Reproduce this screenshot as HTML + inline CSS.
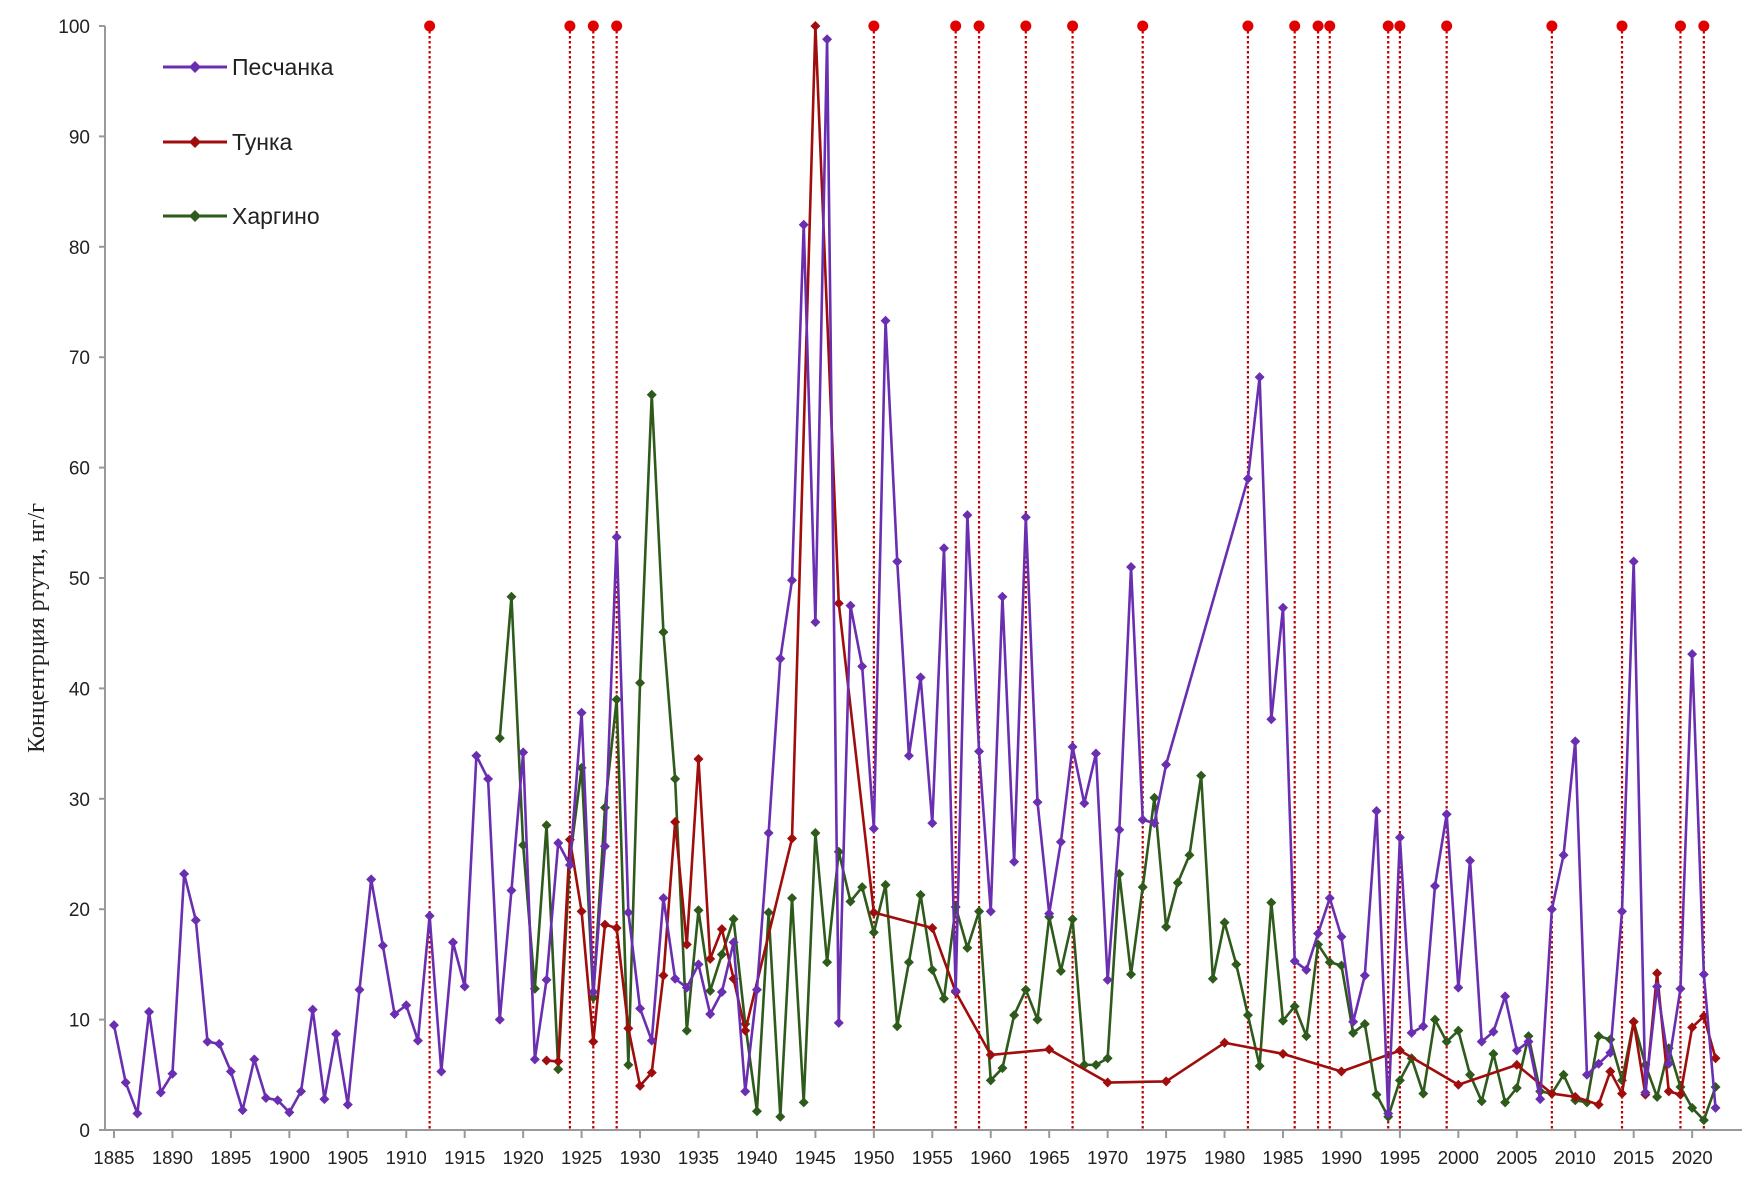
<!DOCTYPE html>
<html><head><meta charset="utf-8"><style>
html,body{margin:0;padding:0;background:#fff;}
svg{display:block;font-family:"Liberation Sans",sans-serif;}
</style></head><body>
<svg id="chart" width="1754" height="1182" viewBox="0 0 1754 1182"></svg>
<script>
const eventYears=[1912,1924,1926,1928,1950,1957,1959,1963,1967,1973,1982,1986,1988,1989,1994,1995,1999,2008,2014,2019,2021];
const peschYears=[1885,1886,1887,1888,1889,1890,1891,1892,1893,1894,1895,1896,1897,1898,1899,1900,1901,1902,1903,1904,1905,1906,1907,1908,1909,1910,1911,1912,1913,1914,1915,1916,1917,1918,1919,1920,1921,1922,1923,1924,1925,1926,1927,1928,1929,1930,1931,1932,1933,1934,1935,1936,1937,1938,1939,1940,1941,1942,1943,1944,1945,1946,1947,1948,1949,1950,1951,1952,1953,1954,1955,1956,1957,1958,1959,1960,1961,1962,1963,1964,1965,1966,1967,1968,1969,1970,1971,1972,1973,1974,1975,1982,1983,1984,1985,1986,1987,1988,1989,1990,1991,1992,1993,1994,1995,1996,1997,1998,1999,2000,2001,2002,2003,2004,2005,2006,2007,2008,2009,2010,2011,2012,2013,2014,2015,2016,2017,2018,2019,2020,2021,2022];
const peschValues=[9.5,4.3,1.5,10.7,3.4,5.1,23.2,19,8,7.8,5.3,1.8,6.4,2.9,2.7,1.6,3.5,10.9,2.8,8.7,2.3,12.7,22.7,16.7,10.5,11.3,8.1,19.4,5.3,17,13,33.9,31.8,10,21.7,34.2,6.4,13.6,26,24,37.8,12.5,25.7,53.7,19.7,11,8.1,21,13.7,12.9,15,10.5,12.5,17,3.5,12.7,26.9,42.7,49.8,82,46,98.8,9.7,47.5,42,27.3,73.3,51.5,33.9,41,27.8,52.7,12.6,55.7,34.3,19.8,48.3,24.3,55.5,29.7,19.6,26.1,34.7,29.6,34.1,13.6,27.2,51,28.1,27.8,33.1,59,68.2,37.2,47.3,15.3,14.5,17.8,21,17.5,9.8,14,28.9,1.5,26.5,8.8,9.4,22.1,28.6,12.9,24.4,8,8.9,12.1,7.2,8,2.8,20,24.9,35.2,5,6,7,19.8,51.5,3.4,13,6,12.8,43.1,14.1,2];
const tunkaYears=[1922,1923,1924,1925,1926,1927,1928,1929,1930,1931,1932,1933,1934,1935,1936,1937,1938,1939,1943,1945,1947,1950,1955,1957,1960,1965,1970,1975,1980,1985,1990,1995,2000,2005,2008,2010,2012,2013,2014,2015,2016,2017,2018,2019,2020,2021,2022];
const tunkaValues=[6.3,6.2,26.3,19.8,8,18.6,18.3,9.2,4,5.2,14,27.9,16.8,33.6,15.5,18.2,13.7,9,26.4,100,47.7,19.7,18.3,12.5,6.8,7.3,4.3,4.4,7.9,6.9,5.3,7.2,4.1,5.9,3.3,3,2.3,5.3,3.3,9.8,3.2,14.2,3.5,3.2,9.3,10.3,6.5];
const kharYears=[1918,1919,1920,1921,1922,1923,1924,1925,1926,1927,1928,1929,1930,1931,1932,1933,1934,1935,1936,1937,1938,1939,1940,1941,1942,1943,1944,1945,1946,1947,1948,1949,1950,1951,1952,1953,1954,1955,1956,1957,1958,1959,1960,1961,1962,1963,1964,1965,1966,1967,1968,1969,1970,1971,1972,1973,1974,1975,1976,1977,1978,1979,1980,1981,1982,1983,1984,1985,1986,1987,1988,1989,1990,1991,1992,1993,1994,1995,1996,1997,1998,1999,2000,2001,2002,2003,2004,2005,2006,2007,2008,2009,2010,2011,2012,2013,2014,2015,2016,2017,2018,2019,2020,2021,2022];
const kharValues=[35.5,48.3,25.8,12.8,27.6,5.5,24.5,32.8,12,29.2,39,5.9,40.5,66.6,45.1,31.8,9,19.9,12.6,15.9,19.1,9.6,1.7,19.7,1.2,21,2.5,26.9,15.2,25.2,20.7,22,17.9,22.2,9.4,15.2,21.3,14.5,11.9,20.2,16.5,19.8,4.5,5.6,10.4,12.7,10,19.3,14.4,19.1,5.9,5.9,6.5,23.2,14.1,22,30.1,18.4,22.4,24.9,32.1,13.7,18.8,15,10.4,5.8,20.6,9.9,11.2,8.5,16.8,15.2,14.9,8.8,9.6,3.2,1.2,4.5,6.5,3.3,10,8,9,5,2.6,6.9,2.5,3.8,8.5,3.5,3.3,5,2.7,2.5,8.5,8.2,4.5,9.8,5.9,3,7.4,3.9,2,0.9,3.9];
const yTicks=[0,10,20,30,40,50,60,70,80,90,100];
const xTicks=[1885,1890,1895,1900,1905,1910,1915,1920,1925,1930,1935,1940,1945,1950,1955,1960,1965,1970,1975,1980,1985,1990,1995,2000,2005,2010,2015,2020];

const NS="http://www.w3.org/2000/svg";
const svg=document.getElementById('chart');
const X0=114,PX=11.69,Y0=1130,Y100=26;
function xs(y){return X0+(y-1885)*PX;}
function ys(v){return Y0-(v/100)*(Y0-Y100);}
function mk(tag,attrs,parent){const e=document.createElementNS(NS,tag);for(const k in attrs)e.setAttribute(k,attrs[k]);(parent||svg).appendChild(e);return e;}

const yAxis=mk('line',{x1:105,y1:Y100,x2:105,y2:Y0,stroke:'#999','stroke-width':2});


const xAxis=mk('line',{x1:105,y1:Y0,x2:1742,y2:Y0,stroke:'#999','stroke-width':2});


yTicks.forEach(v=>{
  mk('line',{x1:99,y1:ys(v),x2:105,y2:ys(v),stroke:'#999','stroke-width':2});
  const t=mk('text',{x:90,y:ys(v)+7,'text-anchor':'end','font-size':19,fill:'#222'});
  t.textContent=v;
  
  
});
xTicks.forEach(yr=>{
  mk('line',{x1:xs(yr),y1:Y0,x2:xs(yr),y2:Y0+8,stroke:'#999','stroke-width':2});
  const t=mk('text',{x:xs(yr),y:Y0+34,'text-anchor':'middle','font-size':18.5,fill:'#222'});
  t.textContent=yr;
  
  
});
const yt=mk('text',{x:0,y:0,transform:'translate(44,628) rotate(-90)','text-anchor':'middle','font-size':24,fill:'#222','font-family':'"Liberation Serif",serif'});
yt.textContent='Концентрция ртути, нг/г';



eventYears.forEach(yr=>{
  const l=mk('line',{x1:xs(yr),y1:Y100,x2:xs(yr),y2:Y0,stroke:'#c00000','stroke-width':2.2,'stroke-dasharray':'2.5 2.5'});
  
  
  const c=mk('circle',{cx:xs(yr),cy:Y100,r:5.5,fill:'#e00000'});
  
  
});

function series(years,vals,color,name){
  const g=mk('g',{});
  
  
  const pts=years.map((y,i)=>xs(y)+','+ys(vals[i])).join(' ');
  mk('polyline',{points:pts,fill:'none',stroke:color,'stroke-width':2.6,'stroke-linejoin':'round'},g);
  years.forEach((y,i)=>{
    const x=xs(y),yy=ys(vals[i]);
    const d=mk('polygon',{points:`${x},${yy-5} ${x+5},${yy} ${x},${yy+5} ${x-5},${yy}`,fill:color},g);
    
    
  });
}
series(kharYears,kharValues,'#2e5a1c','series-khargino');
series(tunkaYears,tunkaValues,'#a00d0d','series-tunka');
series(peschYears,peschValues,'#6a2fb0','series-peschanka');

const leg=[['Песчанка','#6a2fb0',67],['Тунка','#a00d0d',142],['Харгино','#2e5a1c',216]];
leg.forEach(([lab,col,y])=>{
  const g=mk('g',{});
  
  
  mk('line',{x1:163,y1:y,x2:227,y2:y,stroke:col,'stroke-width':3},g);
  mk('polygon',{points:`195,${y-6} 201,${y} 195,${y+6} 189,${y}`,fill:col},g);
  const t=mk('text',{x:232,y:y+8,'font-size':23,fill:'#222'},g);
  t.textContent=lab;
});
</script>
</body></html>
